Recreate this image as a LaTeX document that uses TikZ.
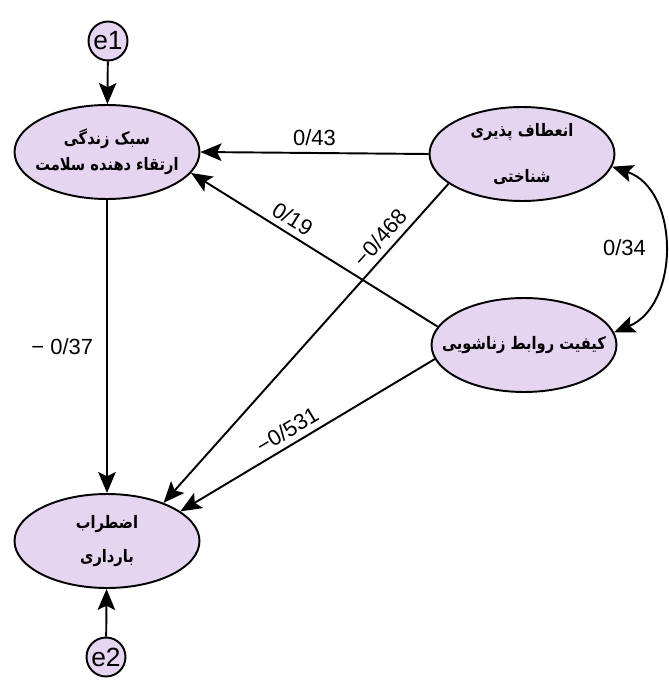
\documentclass[tikz,border=0pt]{standalone}
\usepackage{fontspec}
\setmainfont{Liberation Sans}
\newfontfamily\fafont[Script=Arabic, FakeStretch=0.85]{DejaVu Sans}
\TeXXeTstate=1
\usetikzlibrary{arrows.meta, shapes.geometric}
\definecolor{lilac}{RGB}{230,213,240}
\newcommand{\fa}[1]{\beginR #1\endR}

\begin{document}
\begin{tikzpicture}[x=0.02cm, y=-0.02cm,
  latent/.style={ellipse, draw, line width=1.1pt, fill=lilac, minimum width=3.7cm,
    minimum height=1.88cm, inner xsep=-14pt, inner ysep=0pt, align=center,
    font=\fafont\bfseries\fontsize{9.8}{14}\selectfont},
  err/.style={circle, draw, line width=1.1pt, fill=lilac, minimum size=0.78cm,
    inner sep=0pt, font=\fontsize{15}{15}\selectfont},
  effect/.style={line width=1.1pt, -{Stealth[length=12pt,width=10pt,inset=2.5pt]}},
  coef/.style={font=\fontsize{12.5}{12.5}\selectfont}]
  \useasboundingbox (0,0) rectangle (669,686);

  % Latent variables
  \node[latent] (l1) at (107,152) {\fa{سبک زندگی}\\[1pt]\fa{ارتقاء دهنده سلامت}};
  \node[latent] (l2) at (107,541) {\fa{اضطراب}\\[5pt]\fa{بارداری}};
  \node[latent] (r1) at (522,154) {\fa{انعطاف پذیری}\\[12pt]\fa{شناختی}};
  \node[latent] (r2) at (524,345) {\fa{کیفیت روابط زناشویی}};

  % Error terms
  \node[err] (e1) at (108,41) {e1};
  \node[err] (e2) at (106,657) {e2};
  \draw[effect] (e1) -- (l1);
  \draw[effect] (e2) -- (l2);

  % Paths
  \draw[effect] (r1.west) -- (l1.east) node[coef, midway, above] {0/43};
  \draw[effect] (r2.168) -- (l1.-14) node[coef, pos=0.62, sloped, above] {0/19};
  \draw[effect] (r1.202) -- (l2.34) node[coef, pos=0.2, sloped, above] {−0/468};
  \draw[effect] (r2.189) -- (l2.22) node[coef, pos=0.55, sloped, above] {−0/531};
  \draw[effect] (l1.south) -- (l2.north) node[coef, midway, left, xshift=-4pt] {− 0/37};

  % Covariance
  \draw[line width=1.1pt, {Stealth[length=12pt,width=10pt,inset=2.5pt]}-{Stealth[length=12pt,width=10pt,inset=2.5pt]}]
    (r1.-8) .. controls (680,190) and (680,305) .. (r2.8)
    node[coef, midway, left, xshift=-6pt] {0/34};
\end{tikzpicture}
\end{document}
